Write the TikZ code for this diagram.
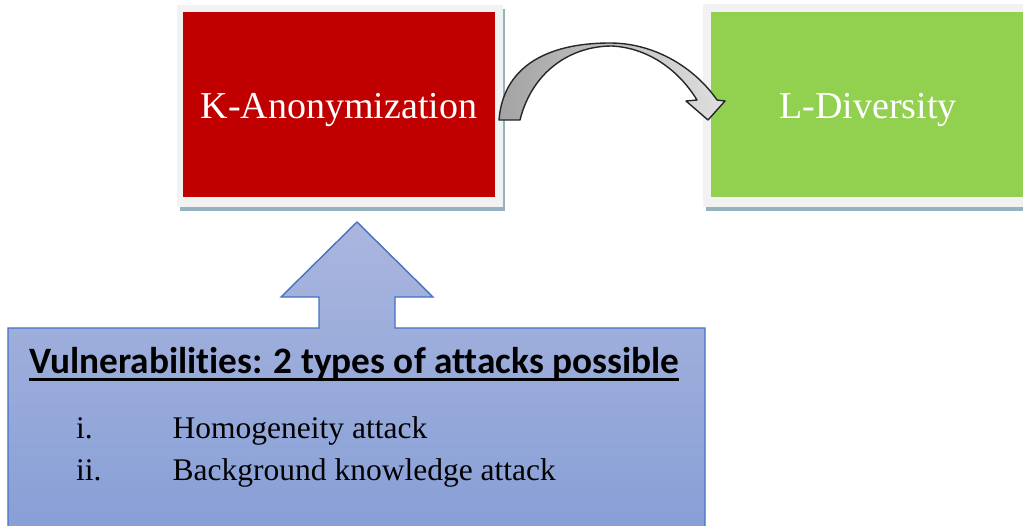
\documentclass[tikz,border=0pt]{standalone}
\usepackage{fontspec}
\setmainfont{Liberation Serif}
\newfontfamily\calibri[Ligatures=NoCommon]{Carlito}
\definecolor{kared}{RGB}{192,0,0}
\definecolor{ldgreen}{RGB}{146,208,80}
\definecolor{framegray}{RGB}{242,242,242}
\definecolor{shadowblue}{RGB}{150,178,192}
\definecolor{boxtop}{RGB}{170,182,222}
\definecolor{boxbot}{RGB}{134,158,214}
\definecolor{boxedge}{RGB}{68,114,196}
\begin{document}
\begin{tikzpicture}[x=1pt,y=-1pt,
  stage/.style={rectangle, inner sep=0, minimum height=185, text=white,
    text height=31pt, text depth=3pt,
    font=\fontsize{38}{42}\selectfont},
  itemtext/.style={anchor=base west, inner sep=0,
    font=\fontsize{31.5}{34}\selectfont},
  heading/.style={anchor=base west, inner sep=0,
    font=\calibri\bfseries\fontsize{37.3}{40}\selectfont},
  bentarrow/.style={draw=black!85, line width=1.4, line join=round,
    left color=gray!72, right color=gray!25},
  callout/.style={draw=boxedge, line width=1.4, top color=boxtop, bottom color=boxbot}
]
\useasboundingbox (0,0) rectangle (1023,525);
\clip (0,0) rectangle (1023,525);

% framed stages with soft bottom shadow
\fill[shadowblue] (180,9) rectangle (505,211);
\fill[framegray] (177,5) rectangle (503,207);
\node[stage, fill=kared, minimum width=312] (ka) at (339,104.5) {K-Anonymization};

\fill[shadowblue] (706,9) rectangle (1030,211);
\fill[framegray] (703,4) rectangle (1030,207);
\node[stage, fill=ldgreen, minimum width=314] (ld) at (868,104.5) {L-Diversity};

% curved arrow from the first stage to the second
\path[bentarrow]
  (499,120) .. controls (503,68) and (545,43) .. (610,43)
  .. controls (655,43) and (695,68) .. (717,100)
  -- (725,101) -- (708,120) -- (686,101) -- (697,100)
  .. controls (680,72) and (650,48) .. (612,46)
  .. controls (570,46) and (532,72) .. (520,120) -- cycle;

% callout box with its up-arrow
\path[callout]
  (8,545) -- (8,328) -- (319,328) -- (319,297) -- (281,297) -- (357,222)
  -- (433,297) -- (395,297) -- (395,328) -- (705,328) -- (705,545);

\node[heading] (title) at (29,373) {Vulnerabilities: 2 types of attacks possible};
\draw[line width=2.5] ([yshift=-6.5pt]title.base west) -- ([yshift=-6.5pt]title.base east);

\node[itemtext] (n1) at (76,438) {i.};
\node[itemtext] (t1) at (172.5,438) {Homogeneity attack};
\node[itemtext] (n2) at (76,480) {ii.};
\node[itemtext] (t2) at (172.5,480) {Background knowledge attack};
\end{tikzpicture}
\end{document}
